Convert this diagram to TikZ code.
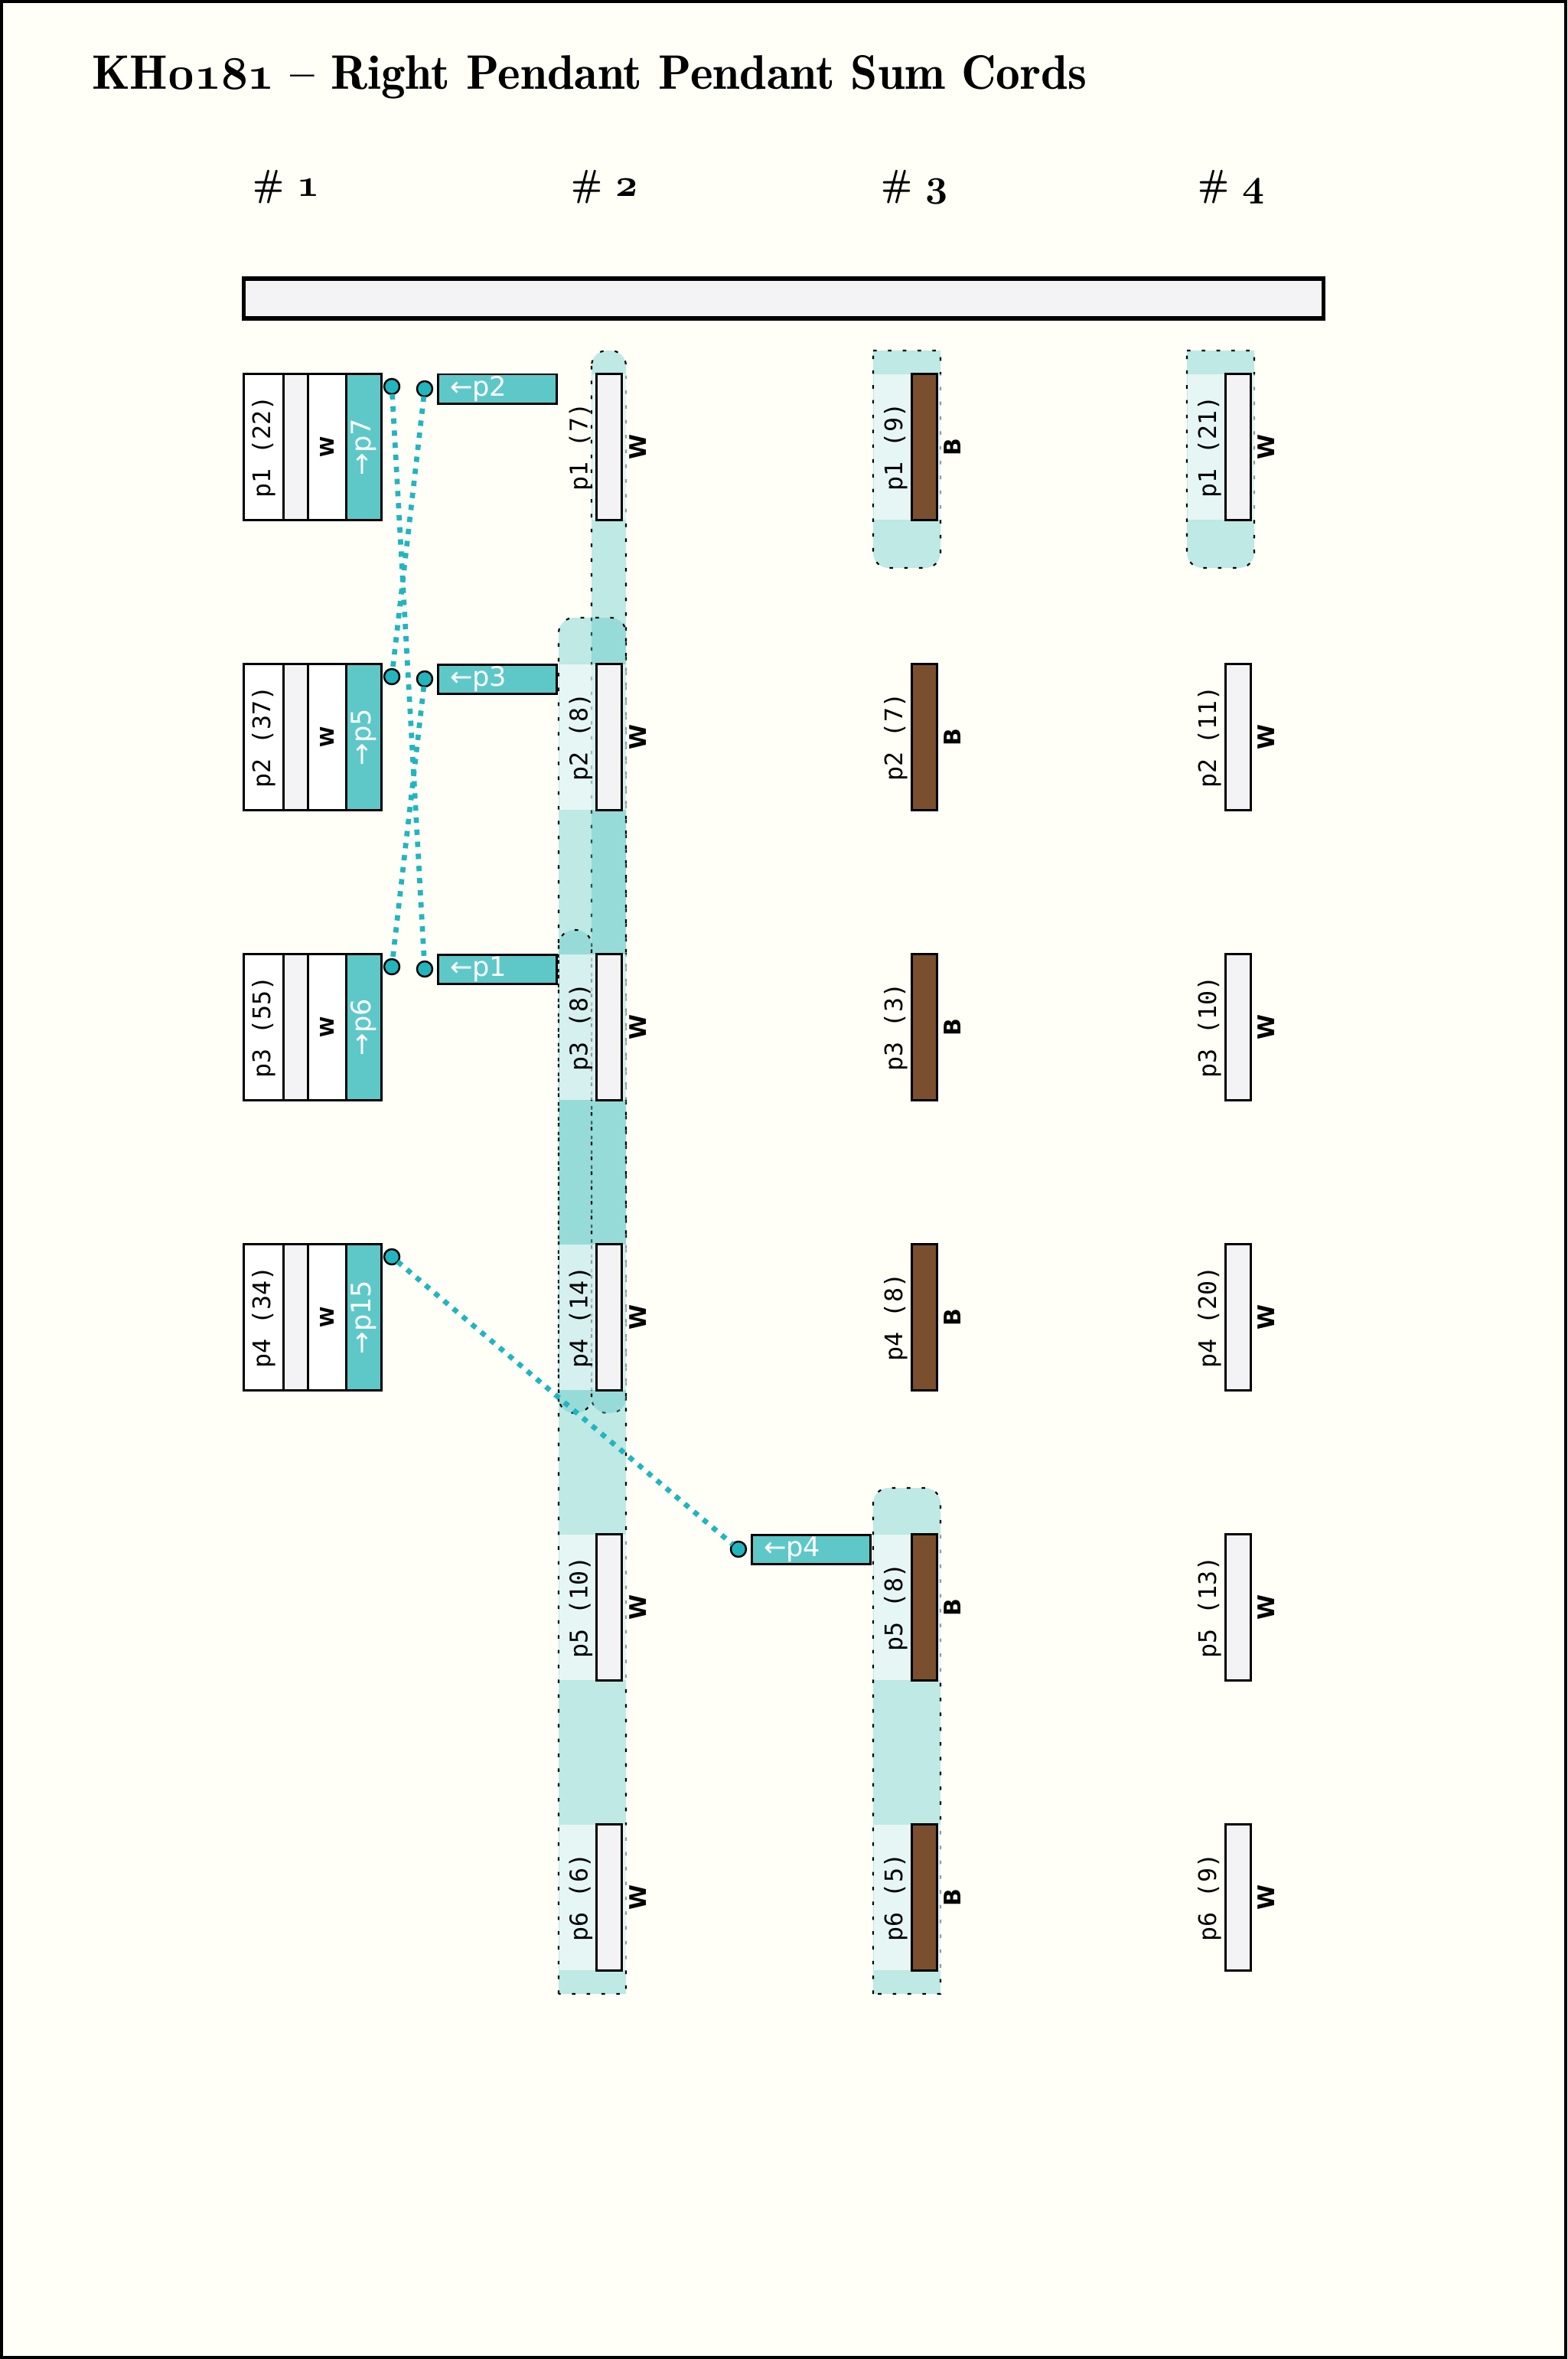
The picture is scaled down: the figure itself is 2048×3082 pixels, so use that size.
\documentclass[tikz,border=0pt]{standalone}
\usepackage{fontspec}
\usepackage{graphicx}
\usetikzlibrary{positioning}

\newfontfamily\cordfont{DejaVu Sans Mono}
\newfontfamily\sumfont{DejaVu Sans}
\newfontfamily\titlefont{lmromandemi10-regular}[Extension=.otf,Ligatures=TeX]
\newcommand\osnum[1]{{\fontencoding{OML}\fontfamily{cmm}\fontseries{b}\fontshape{it}\selectfont #1}}

\definecolor{ivory}{HTML}{FFFFF8}
\definecolor{sumteal}{HTML}{5EC8C8}
\definecolor{dotteal}{HTML}{22B5BE}
\definecolor{cordgrey}{HTML}{F3F3F5}
\definecolor{cordbrown}{HTML}{7A4F2E}

\begin{document}
\begin{tikzpicture}[x=0.01cm,y=-0.01cm,
    every node/.style={inner sep=0pt,outer sep=0pt},
    cord/.style={draw,line width=0.85pt,minimum width=0.33cm,minimum height=1.9cm},
    cordw/.style={cord,fill=cordgrey},
    cordb/.style={cord,fill=cordbrown},
    pname/.style={rotate=90,anchor=south,inner sep=1.5pt,font=\cordfont\fontsize{9}{10}\selectfont},
    pcol/.style={rotate=90,anchor=north,inner sep=2.8pt,font=\sumfont\bfseries\fontsize{8.5}{10}\selectfont},
    tagbox/.style={draw,line width=0.85pt,fill=white,minimum width=0.51cm,minimum height=1.9cm,font=\cordfont\fontsize{9}{10}\selectfont},
    stripbox/.style={tagbox,fill=cordgrey,minimum width=0.32cm},
    wbox/.style={tagbox,minimum width=0.5cm,font=\sumfont\bfseries\fontsize{7}{8}\selectfont},
    sumbox/.style={tagbox,fill=sumteal,minimum width=0.46cm,text=white,font=\sumfont\fontsize{10}{12}\selectfont},
    sumtag/.style={draw,line width=0.85pt,fill=sumteal,minimum width=1.55cm,minimum height=0.38cm,text width=35pt,inner xsep=4.5pt,align=left,text=white,font=\sumfont\fontsize{10}{12}\selectfont},
    dot/.style={circle,draw,line width=0.7pt,fill=dotteal,minimum size=0.2cm},
    link/.style={dotteal,line width=1.9pt,dash pattern=on 2pt off 2.5pt},
    grp/.style={fill=sumteal,fill opacity=0.4,draw=black,line width=0.6pt,dash pattern=on 1.3pt off 4.2pt},
    band/.style={fill=white,fill opacity=0.6},
    hdr/.style={anchor=base,font=\titlefont\fontsize{14}{16}\selectfont}]
    \useasboundingbox (0,0) rectangle (2048,3082);
    \fill[ivory] (0,0) rectangle (2048,3082);
    \draw[line width=1.1pt] (2,2) rectangle (2046,3080);

    \node[anchor=base west,font=\titlefont\fontsize{18}{22}\selectfont] (title) at (120,117) {KH\osnum{0181} -- Right Pendant Pendant Sum Cords};
    \node[hdr] (h1) at (374,257) {\# \osnum{1}};
    \node[hdr] (h2) at (790,257) {\# \osnum{2}};
    \node[hdr] (h3) at (1195,257) {\# \osnum{3}};
    \node[hdr] (h4) at (1609,257) {\# \osnum{4}};
    \node[draw,line width=1.6pt,fill=cordgrey,minimum width=14.1cm,minimum height=0.52cm] (bar) at (1024,390) {};

    % sum groups
    \path[grp,rounded corners=2mm] (773,458) rectangle (818,1846);
    \path[grp] (730,2605) -- (730,827) arc[start angle=180,end angle=90,radius=2mm] -- (798,807) arc[start angle=90,end angle=0,radius=2mm] -- (818,2605) -- cycle;
    \path[grp,rounded corners=2mm] (730,1215) rectangle (773,1846);
    \path[grp] (1141,458) -- (1229,458) -- (1229,722) arc[start angle=0,end angle=-90,radius=2mm] -- (1161,742) arc[start angle=270,end angle=180,radius=2mm] -- cycle;
    \path[grp] (1141,2605) -- (1141,1964) arc[start angle=180,end angle=90,radius=2mm] -- (1209,1944) arc[start angle=90,end angle=0,radius=2mm] -- (1229,2605) -- cycle;
    \path[grp] (1551,458) -- (1639,458) -- (1639,722) arc[start angle=0,end angle=-90,radius=2mm] -- (1571,742) arc[start angle=270,end angle=180,radius=2mm] -- cycle;

    \fill[band] (774,489) rectangle (820,679);
    \fill[band] (731,868) rectangle (820,1058);
    \fill[band] (731,1247) rectangle (820,1437);
    \fill[band] (731,1626) rectangle (820,1816);
    \fill[band] (731,2005) rectangle (820,2195);
    \fill[band] (731,2384) rectangle (820,2574);
    \fill[band] (1142,489) rectangle (1231,679);
    \fill[band] (1142,2005) rectangle (1231,2195);
    \fill[band] (1142,2384) rectangle (1231,2574);
    \fill[band] (1552,489) rectangle (1641,679);

    % cluster 1
    \node[tagbox] (c1p1) at (344.5,584) {\rotatebox{90}{p1 (22)}};
    \node[stripbox,right=0pt of c1p1] (c1p1s) {};
    \node[wbox,right=0pt of c1p1s] (c1p1c) {\rotatebox{90}{W}};
    \node[sumbox,right=0pt of c1p1c] (c1p1t) {\rotatebox{90}{→p7}};
    \node[tagbox] (c1p2) at (344.5,963) {\rotatebox{90}{p2 (37)}};
    \node[stripbox,right=0pt of c1p2] (c1p2s) {};
    \node[wbox,right=0pt of c1p2s] (c1p2c) {\rotatebox{90}{W}};
    \node[sumbox,right=0pt of c1p2c] (c1p2t) {\rotatebox{90}{→p5}};
    \node[tagbox] (c1p3) at (344.5,1342) {\rotatebox{90}{p3 (55)}};
    \node[stripbox,right=0pt of c1p3] (c1p3s) {};
    \node[wbox,right=0pt of c1p3s] (c1p3c) {\rotatebox{90}{W}};
    \node[sumbox,right=0pt of c1p3c] (c1p3t) {\rotatebox{90}{→p6}};
    \node[tagbox] (c1p4) at (344.5,1721) {\rotatebox{90}{p4 (34)}};
    \node[stripbox,right=0pt of c1p4] (c1p4s) {};
    \node[wbox,right=0pt of c1p4s] (c1p4c) {\rotatebox{90}{W}};
    \node[sumbox,right=0pt of c1p4c] (c1p4t) {\rotatebox{90}{→p15}};
    \node[dot] (c1p1d) at (512,505) {};
    \node[dot] (c1p2d) at (512,884) {};
    \node[dot] (c1p3d) at (512,1263) {};
    \node[dot] (c1p4d) at (512,1642) {};

    \node[sumtag,anchor=north west] (t1) at (572,489) {←p2};
    \node[sumtag,anchor=north west] (t2) at (572,868) {←p3};
    \node[sumtag,anchor=north west] (t3) at (572,1247) {←p1};
    \node[sumtag,anchor=north west] (t5) at (982,2005) {←p4};
    \node[dot,left=2pt of t1] (t1d) {};
    \node[dot,left=2pt of t2] (t2d) {};
    \node[dot,left=2pt of t3] (t3d) {};
    \node[dot,left=2pt of t5] (t5d) {};

    % cluster 2
    \node[cordw] (c2p1) at (796,584) {}; \node[pname] (c2p1n) at (c2p1.west) {p1 (7)}; \node[pcol] (c2p1c) at (c2p1.east) {W};
    \node[cordw] (c2p2) at (796,963) {}; \node[pname] (c2p2n) at (c2p2.west) {p2 (8)}; \node[pcol] (c2p2c) at (c2p2.east) {W};
    \node[cordw] (c2p3) at (796,1342) {}; \node[pname] (c2p3n) at (c2p3.west) {p3 (8)}; \node[pcol] (c2p3c) at (c2p3.east) {W};
    \node[cordw] (c2p4) at (796,1721) {}; \node[pname] (c2p4n) at (c2p4.west) {p4 (14)}; \node[pcol] (c2p4c) at (c2p4.east) {W};
    \node[cordw] (c2p5) at (796,2100) {}; \node[pname] (c2p5n) at (c2p5.west) {p5 (10)}; \node[pcol] (c2p5c) at (c2p5.east) {W};
    \node[cordw] (c2p6) at (796,2479) {}; \node[pname] (c2p6n) at (c2p6.west) {p6 (6)}; \node[pcol] (c2p6c) at (c2p6.east) {W};

    % cluster 3
    \node[cordb] (c3p1) at (1207.5,584) {}; \node[pname] (c3p1n) at (c3p1.west) {p1 (9)}; \node[pcol] (c3p1c) at (c3p1.east) {B};
    \node[cordb] (c3p2) at (1207.5,963) {}; \node[pname] (c3p2n) at (c3p2.west) {p2 (7)}; \node[pcol] (c3p2c) at (c3p2.east) {B};
    \node[cordb] (c3p3) at (1207.5,1342) {}; \node[pname] (c3p3n) at (c3p3.west) {p3 (3)}; \node[pcol] (c3p3c) at (c3p3.east) {B};
    \node[cordb] (c3p4) at (1207.5,1721) {}; \node[pname] (c3p4n) at (c3p4.west) {p4 (8)}; \node[pcol] (c3p4c) at (c3p4.east) {B};
    \node[cordb] (c3p5) at (1207.5,2100) {}; \node[pname] (c3p5n) at (c3p5.west) {p5 (8)}; \node[pcol] (c3p5c) at (c3p5.east) {B};
    \node[cordb] (c3p6) at (1207.5,2479) {}; \node[pname] (c3p6n) at (c3p6.west) {p6 (5)}; \node[pcol] (c3p6c) at (c3p6.east) {B};

    % cluster 4
    \node[cordw] (c4p1) at (1617.5,584) {}; \node[pname] (c4p1n) at (c4p1.west) {p1 (21)}; \node[pcol] (c4p1c) at (c4p1.east) {W};
    \node[cordw] (c4p2) at (1617.5,963) {}; \node[pname] (c4p2n) at (c4p2.west) {p2 (11)}; \node[pcol] (c4p2c) at (c4p2.east) {W};
    \node[cordw] (c4p3) at (1617.5,1342) {}; \node[pname] (c4p3n) at (c4p3.west) {p3 (10)}; \node[pcol] (c4p3c) at (c4p3.east) {W};
    \node[cordw] (c4p4) at (1617.5,1721) {}; \node[pname] (c4p4n) at (c4p4.west) {p4 (20)}; \node[pcol] (c4p4c) at (c4p4.east) {W};
    \node[cordw] (c4p5) at (1617.5,2100) {}; \node[pname] (c4p5n) at (c4p5.west) {p5 (13)}; \node[pcol] (c4p5c) at (c4p5.east) {W};
    \node[cordw] (c4p6) at (1617.5,2479) {}; \node[pname] (c4p6n) at (c4p6.west) {p6 (9)}; \node[pcol] (c4p6c) at (c4p6.east) {W};

    \draw[link] (c1p1d) -- (t3d);
    \draw[link] (t1d) -- (c1p2d);
    \draw[link] (t2d) -- (c1p3d);
    \draw[link] (c1p4d) -- (t5d);
\end{tikzpicture}
\end{document}
